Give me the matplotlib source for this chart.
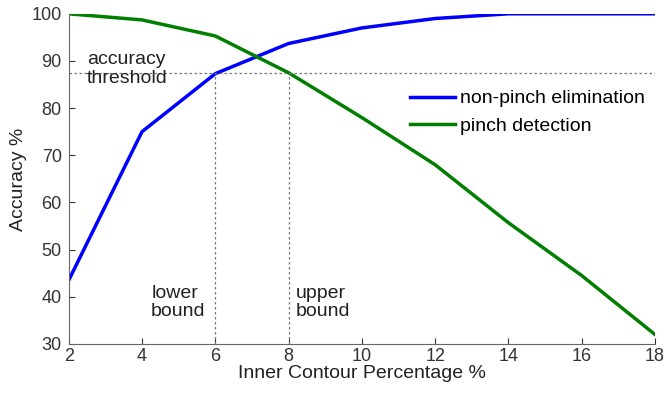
import matplotlib
matplotlib.use('Agg')
import matplotlib.pyplot as plt

plt.rcParams['font.family'] = ['Liberation Sans', 'DejaVu Sans']

x = [2, 4, 6, 8, 10, 12, 14, 16, 18]
non_pinch = [43.5, 75, 87.3, 93.7, 97, 99, 100, 100, 100]
pinch = [100, 98.7, 95.3, 87.5, 78, 68, 55.7, 44.5, 32]
threshold = 87.5
lower_bound = 6
upper_bound = 8

fig = plt.figure(figsize=(6.67, 3.94), dpi=100)
ax = fig.add_axes([0.103, 0.127, 0.879, 0.838])

ax.plot(x, non_pinch, color='#0000ff', linewidth=2.5, label='non-pinch elimination')
ax.plot(x, pinch, color='#007f00', linewidth=2.5, label='pinch detection')

dot = dict(color='#777777', linestyle=(0, (2, 2)), linewidth=0.9)
ax.plot([2, 18], [threshold, threshold], **dot)
ax.plot([lower_bound, lower_bound], [30, threshold], **dot)
ax.plot([upper_bound, upper_bound], [30, threshold], **dot)

txt = dict(fontsize=14, color='#222222', va='center', linespacing=1.1)
ax.text(2.5, 88.3, 'accuracy\nthreshold', **txt)
ax.text(4.25, 38.8, 'lower\nbound', **txt)
ax.text(8.2, 38.8, 'upper\nbound', **txt)

ax.set_xlim(2, 18)
ax.set_ylim(30, 100)
ax.set_xticks(x)
ax.set_yticks(range(30, 101, 10))
ax.tick_params(direction='in', length=4, labelsize=13, colors='#333333')
ax.tick_params(axis='x', pad=3)
ax.tick_params(axis='y', pad=5)
for s in ['top', 'right']:
    ax.spines[s].set_visible(False)
for s in ['left', 'bottom']:
    ax.spines[s].set_color('#666666')

ax.set_xlabel('Inner Contour Percentage %', fontsize=14, color='#222222', labelpad=0)
ax.set_ylabel('Accuracy %', fontsize=14, color='#222222', labelpad=3)

ax.legend(loc='upper left', bbox_to_anchor=(0.582, 0.77), frameon=False, fontsize=14,
          handlelength=2.3, handletextpad=0.25, borderpad=0, borderaxespad=0,
          labelspacing=0.5)

fig.savefig('out.png', dpi=100)
